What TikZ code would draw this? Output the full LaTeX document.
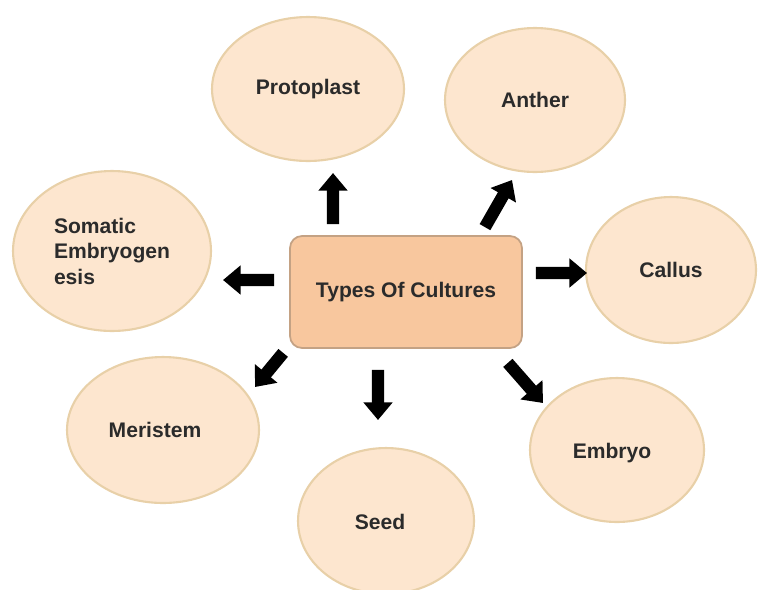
\documentclass[tikz,border=0pt]{standalone}
\usepackage{fontspec}
\setmainfont{Liberation Sans}
\usetikzlibrary{shapes.geometric,arrows.meta}
\definecolor{cellfill}{HTML}{FDE6CF}
\definecolor{celldraw}{HTML}{E8D0A8}
\definecolor{boxfill}{HTML}{F8C79E}
\definecolor{boxdraw}{HTML}{C4A284}
\definecolor{labeltext}{HTML}{2B2B2B}
\begin{document}
\begin{tikzpicture}[x=0.02cm, y=-0.02cm,
		every node/.style={font=\fontsize{12}{14.5}\selectfont\bfseries, text=labeltext},
		culture/.style={ellipse, draw=celldraw, fill=cellfill, line width=1.2pt, inner sep=0pt},
		hub/.style={rectangle, rounded corners=0.24cm, draw=boxdraw, fill=boxfill, line width=1pt,
					minimum width=4.64cm, minimum height=2.24cm},
		blk/.style={line width=7pt, -{Triangle[width=16pt, length=10pt]}}]
	\useasboundingbox (0,0) rectangle (759,589);
	\node[hub] (types) at (406,292) {Types Of Cultures};
	\node[culture, minimum width=3.84cm, minimum height=2.88cm] (proto) at (308,89) {Protoplast};
	\node[culture, minimum width=3.6cm, minimum height=2.88cm] (anther) at (535,100) {Anther};
	\node[culture, minimum width=3.96cm, minimum height=3.2cm, align=left] (somatic) at (112,251)
		{Somatic\\Embryogen\\esis};
	\node[culture, minimum width=3.4cm, minimum height=2.92cm] (callus) at (671,270) {Callus};
	\node[culture, minimum width=3.84cm, minimum height=2.92cm] (meristem) at (163,430) {};
	\node (meristemtxt) at (155,430) {Meristem};
	\node[culture, minimum width=3.52cm, minimum height=2.92cm] (seed) at (386,521) {};
	\node (seedtxt) at (380,522) {Seed};
	\node[culture, minimum width=3.48cm, minimum height=2.88cm] (embryo) at (617,450) {};
	\node (embryotxt) at (612,453) {Embryo};
	\coordinate (tipproto) at (333,173);
	\coordinate (tipanther) at (512,180);
	\coordinate (tipsomatic) at (223,280);
	\coordinate (tipcallus) at (587,273);
	\coordinate (tipmeristem) at (255,387);
	\coordinate (tipseed) at (378,420);
	\coordinate (tipembryo) at (543,403);
	\draw[blk] ([xshift=-1.46cm, yshift=0.22cm]types.north) -- (tipproto);
	\draw[blk] ([xshift=1.58cm, yshift=0.16cm]types.north) -- (tipanther);
	\draw[blk] ([xshift=-0.3cm, yshift=0.24cm]types.west) -- (tipsomatic);
	\draw[blk] ([xshift=0.26cm, yshift=0.38cm]types.east) -- (tipcallus);
	\draw[blk] ([xshift=-0.12cm, yshift=-0.08cm]types.south west) -- (tipmeristem);
	\draw[blk] ([xshift=-0.56cm, yshift=-0.42cm]types.south) -- (tipseed);
	\draw[blk] ([xshift=-0.3cm, yshift=-0.28cm]types.south east) -- (tipembryo);
\end{tikzpicture}
\end{document}
